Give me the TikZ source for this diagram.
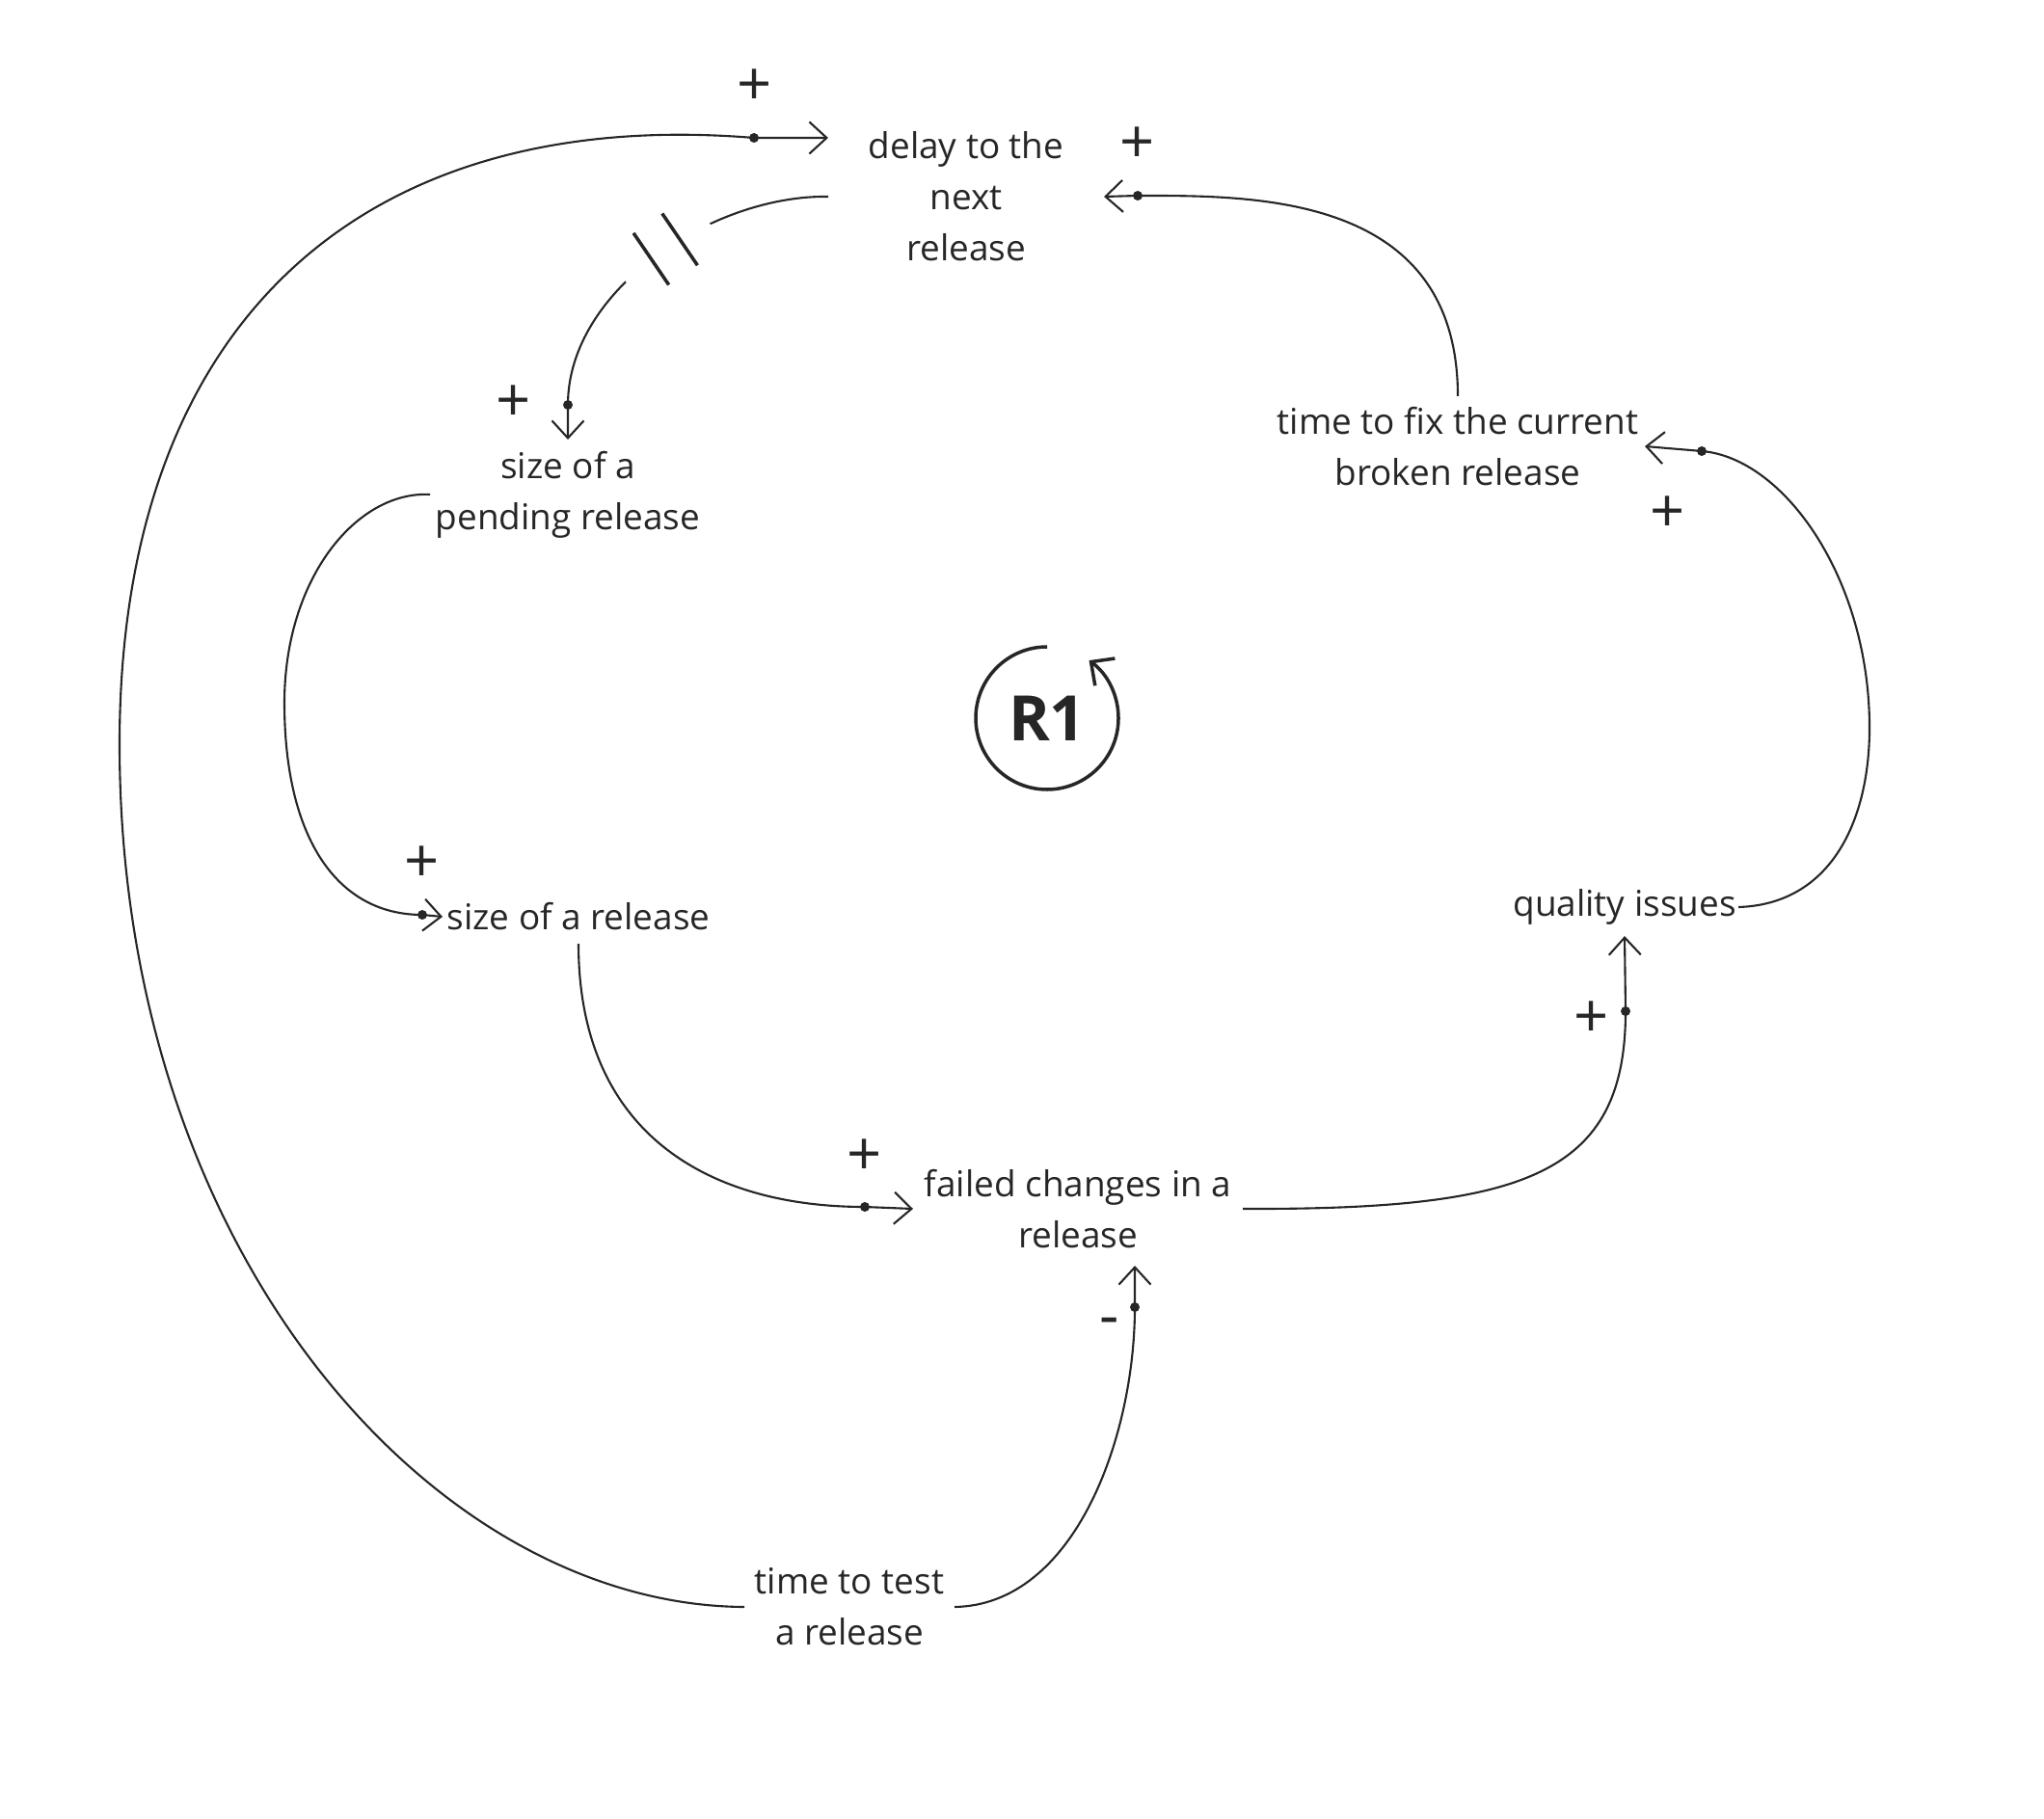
\documentclass[tikz,border=0pt]{standalone}
\usepackage{fontspec}
\setmainfont{Open Sans}
\usetikzlibrary{arrows.meta, decorations.markings}
\definecolor{cink}{HTML}{262626}
\tikzset{
  every picture/.style={line width=0.6pt, color=cink},
  var/.style={align=center, inner sep=0pt, outer sep=0pt, font=\fontsize{10.5}{15.1}\selectfont},
  link/.style={-{Straight Barb[length=1.8mm, width=3.3mm]}, draw=cink},
  dot/.style={circle, fill=cink, inner sep=0pt, minimum size=1mm},
  sign/.style={font=\fontsize{18}{18}\selectfont, inner sep=0pt},
  delaymark/.style={postaction={decorate}, decoration={markings, mark=at position 1.8cm with {
    \fill[white] (-0.53,-0.08) rectangle (0.53,0.08);
    \draw[-, line width=1pt] (-0.18,-0.325) -- (-0.18,0.325) (0.18,-0.325) -- (0.18,0.325);
  }}},
}

\begin{document}
\begin{tikzpicture}
  \useasboundingbox (0,0) rectangle (21.2,-18.86);
  % variables
  \node[var, minimum width=2.86cm] (delay) at (10.02,-2.04) {delay to the\\next\\release};
  \node[var, minimum width=2.86cm, minimum height=1.14cm] (pending) at (5.89,-5.13) {size of a\\pending release};
  \node[var, minimum width=3.88cm, minimum height=1.04cm] (fix) at (15.12,-4.63) {time to fix the current\\broken release};
  \node[var, minimum width=2.82cm, minimum height=0.56cm] (size) at (6.00,-9.51) {size of a release};
  \node[var, minimum width=2.36cm, minimum height=0.60cm] (quality) at (16.85,-9.41) {quality issues};
  \node[var, minimum width=3.42cm, minimum height=1.18cm] (failed) at (11.18,-12.54) {failed changes in a\\release};
  \node[var, minimum width=2.18cm] (test) at (8.81,-16.67) {time to test\\a release};
  % links
  \draw[link] (test.west) .. controls (4.50,-16.65) and (1.24,-13.00) .. (1.24,-7.72)
    .. controls (1.24,-3.30) and (3.80,-1.10) .. (7.82,-1.43) node[dot] (d1) {} -- ([yshift=6.1mm]delay.west);
  \draw[link, delaymark] (delay.west) .. controls (7.40,-2.02) and (5.89,-3.00) .. (5.89,-4.20) node[dot] (d2) {} -- (pending.north);
  \draw[link] (pending.west) .. controls (3.70,-5.09) and (2.95,-6.00) .. (2.95,-7.29)
    .. controls (2.95,-8.70) and (3.50,-9.49) .. (4.38,-9.49) node[dot] (d3) {} -- (size.west);
  \draw[link] (size.south) .. controls (6.00,-11.80) and (7.40,-12.52) .. (8.97,-12.52) node[dot] (d4) {} -- (failed.west);
  \draw[link] (test.east) .. controls (11.15,-16.65) and (11.77,-14.90) .. (11.77,-13.56) node[dot] (d5) {} -- ([xshift=5.9mm]failed.south);
  \draw[link] (failed.east) .. controls (15.80,-12.55) and (16.86,-12.20) .. (16.86,-10.49) node[dot] (d6) {} -- (quality.south);
  \draw[link] (quality.east) .. controls (19.00,-9.38) and (19.39,-8.50) .. (19.39,-7.55)
    .. controls (19.39,-6.00) and (18.50,-4.75) .. (17.65,-4.68) node[dot] (d7) {} -- (fix.east);
  \draw[link] (fix.north) .. controls (15.12,-2.00) and (13.00,-2.03) .. (11.80,-2.03) node[dot] (d8) {} -- (delay.east);
  % polarities
  \node[sign] (s1) at (7.83,-0.91) {+};
  \node[sign] (s2) at (5.33,-4.19) {+};
  \node[sign] (s3) at (4.38,-8.97) {+};
  \node[sign] (s4) at (8.97,-12.01) {+};
  \node[sign] (s5) at (11.51,-13.77) {-};
  \node[sign] (s6) at (16.51,-10.58) {+};
  \node[sign] (s7) at (17.30,-5.34) {+};
  \node[sign] (s8) at (11.80,-1.51) {+};
  % loop
  \node[circle, minimum size=1.48cm, inner sep=0pt, outer sep=0pt, font=\bfseries\fontsize{18.5}{18.5}\selectfont] (r1) at (10.86,-7.45) {R1};
  \draw[-{Straight Barb[length=1.8mm, width=3.5mm]}, line width=1pt] (r1.north) arc[start angle=90, end angle=414, radius=0.74cm];
\end{tikzpicture}
\end{document}
